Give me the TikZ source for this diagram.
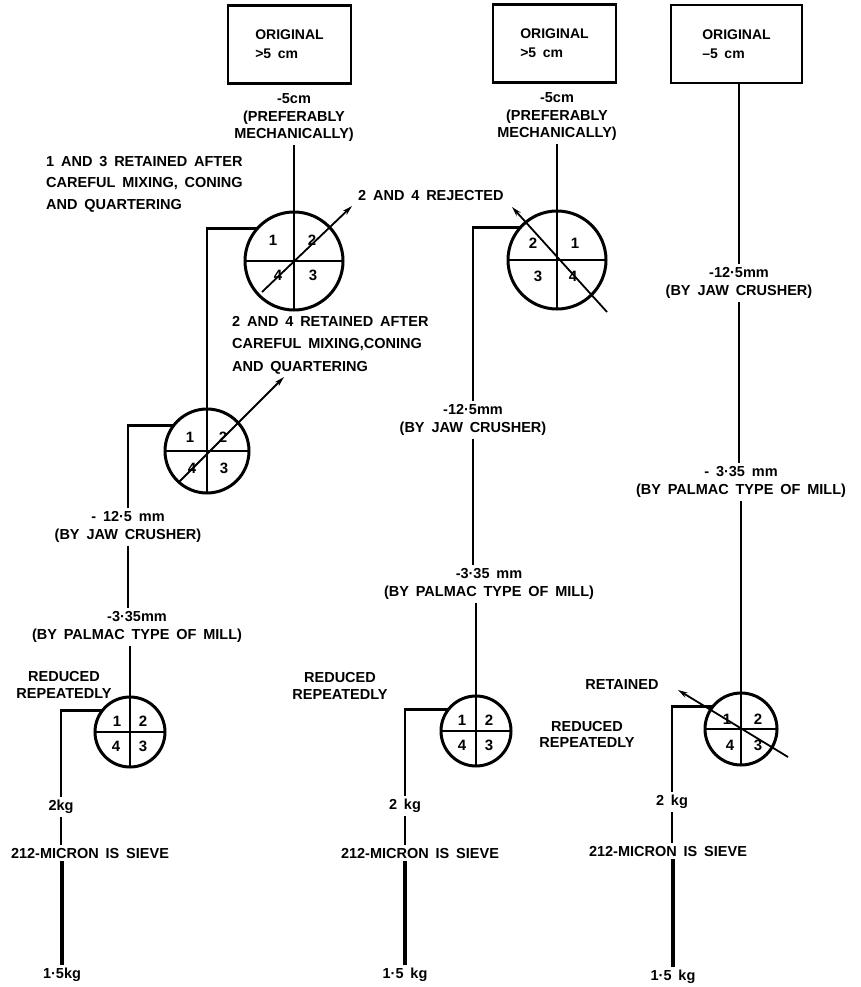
\documentclass[tikz,border=0pt]{standalone}
\usepackage{fontspec}
\setmainfont{Liberation Sans}[WordSpace=1.7]
\usetikzlibrary{arrows.meta}
\newcommand\labfont{\bfseries\fontsize{14.5}{17.5}\selectfont}
\newcommand\numfont{\bfseries\fontsize{15}{17}\selectfont}
\tikzset{
 lab/.style={font=\labfont, align=center, inner sep=3pt},
 boxnode/.style={draw, line width=2.4pt, minimum width=123pt, minimum height=78pt, align=left, font=\bfseries\fontsize{14}{19}\selectfont, inner sep=0pt},
 qc/.style={draw, circle, line width=3pt, inner sep=0pt, outer sep=0pt},
 ln/.style={line width=2.8pt},
 heavy/.style={line width=4.4pt},
 arr/.style={line width=1.8pt, -{Stealth[length=10pt,width=5.5pt]}},
 num/.style={font=\numfont, inner sep=0pt}
}
\begin{document}
\begin{tikzpicture}[x=1pt,y=-1pt]
\useasboundingbox (0,0) rectangle (860,987);
\fill[white] (0,0) rectangle (860,987);

% ---------------- Column 1 ----------------
\node[boxnode] (b1) at (289.5,44.5) {ORIGINAL\\>5 cm};
\node[lab] (m1) at (294,118) {-5cm\\(PREFERABLY\\MECHANICALLY)};
\node[lab, align=left, anchor=west, font=\bfseries\fontsize{14.5}{21.5}\selectfont] (r13) at (43,184) {1 AND 3 RETAINED AFTER\\CAREFUL MIXING, CONING\\AND QUARTERING};
\node[lab, align=left, anchor=west] (rej) at (355,196) {2 AND 4 REJECTED};
\node[qc, minimum size=98pt] (c1) at (294,261) {};
\node[lab, align=left, anchor=west, font=\bfseries\fontsize{14.5}{22.5}\selectfont] (r24) at (229,345) {2 AND 4 RETAINED AFTER\\CAREFUL MIXING,CONING\\AND QUARTERING};
\node[qc, minimum size=84pt] (c2) at (207,451) {};
\node[lab] (l13) at (128,527) {- 12·5 mm\\(BY JAW CRUSHER)};
\node[lab] (l14) at (137,627) {-3·35mm\\(BY PALMAC TYPE OF MILL)};
\node[lab] (red1) at (64,685) {REDUCED\\REPEATEDLY};
\node[qc, minimum size=70pt] (c3) at (130,732) {};
\node[lab] (kg1) at (61,807) {2kg};
\node[lab] (s1) at (90,853) {212-MICRON IS SIEVE};
\node[lab] (f1) at (62,975) {1·5kg};

% numbers
\node[num] at ([shift={(-21,-21)}]c1.center) {1};
\node[num] at ([shift={(18,-21)}]c1.center) {2};
\node[num] at ([shift={(-16,14)}]c1.center) {4};
\node[num] at ([shift={(19,14)}]c1.center) {3};
\node[num] at ([shift={(-17,-14)}]c2.center) {1};
\node[num] at ([shift={(16,-14)}]c2.center) {2};
\node[num] at ([shift={(-15,17)}]c2.center) {4};
\node[num] at ([shift={(17,17)}]c2.center) {3};
\node[num] at ([shift={(-13,-11)}]c3.center) {1};
\node[num] at ([shift={(13,-11)}]c3.center) {2};
\node[num] at ([shift={(-14,14)}]c3.center) {4};
\node[num] at ([shift={(13,14)}]c3.center) {3};

\draw[ln] (c1.north) -- (c1.south) (c1.west) -- (c1.east);
\draw[ln] (c2.north) -- (c2.south) (c2.west) -- (c2.east);
\draw[ln] (c3.north) -- (c3.south) (c3.west) -- (c3.east);

\draw[ln] (m1.south) -- (c1.north);
\draw[ln] (c1.139) -| (c2.north);
\draw[ln] (c2.142) -| (l13.north);
\draw[ln] (l13.south) -- (l13.south |- l14.north);
\draw[ln] (l14.south -| c3.north) -- (c3.north);
\draw[ln] (c3.142) -| (kg1.north);
\draw[ln] (kg1.south) -- (kg1.south |- s1.north);
\draw[heavy] (s1.south -| f1.north) -- (f1.north);

\coordinate (a1s) at ([shift={(-32,31)}]c1.center);
\coordinate (a1e) at ([shift={(58,-55)}]c1.center);
\draw[arr] (a1s) -- (a1e);
\coordinate (a2s) at ([shift={(-28,31)}]c2.center);
\coordinate (a2e) at ([shift={(77,-74)}]c2.center);
\draw[arr] (a2s) -- (a2e);

% ---------------- Column 2 ----------------
\node[boxnode] (b2) at (554.5,43.5) {ORIGINAL\\>5 cm};
\node[lab] (m2) at (557,117) {-5cm\\(PREFERABLY\\MECHANICALLY)};
\node[qc, minimum size=98pt] (c4) at (557,260) {};
\node[lab] (l23) at (473,420) {-12·5mm\\(BY JAW CRUSHER)};
\node[lab] (l24) at (489,584) {-3·35 mm\\(BY PALMAC TYPE OF MILL)};
\node[lab] (red2) at (340,686) {REDUCED\\REPEATEDLY};
\node[qc, minimum size=70pt] (c5) at (476,731) {};
\node[lab] (kg2) at (405,806) {2 kg};
\node[lab] (s2) at (420,853) {212-MICRON IS SIEVE};
\node[lab] (f2) at (405,975) {1·5 kg};

\node[num] at ([shift={(-24,-17)}]c4.center) {2};
\node[num] at ([shift={(18,-17)}]c4.center) {1};
\node[num] at ([shift={(-19,16)}]c4.center) {3};
\node[num] at ([shift={(16,16)}]c4.center) {4};
\node[num] at ([shift={(-14,-11)}]c5.center) {1};
\node[num] at ([shift={(13,-11)}]c5.center) {2};
\node[num] at ([shift={(-14,14)}]c5.center) {4};
\node[num] at ([shift={(13,14)}]c5.center) {3};

\draw[ln] (c4.north) -- (c4.south) (c4.west) -- (c4.east);
\draw[ln] (c5.north) -- (c5.south) (c5.west) -- (c5.east);

\draw[ln] (m2.south) -- (c4.north);
\draw[ln] (c4.139) -| (l23.north);
\draw[ln] (l23.south) -- (l23.south |- l24.north);
\draw[ln] (l24.south -| c5.north) -- (c5.north);
\draw[ln] (c5.142) -| (kg2.north);
\draw[ln] (kg2.south) -- (kg2.south |- s2.north);
\draw[heavy] (s2.south -| f2.north) -- (f2.north);

\coordinate (a4s) at ([shift={(50,52)}]c4.center);
\coordinate (a4e) at ([shift={(-45,-53)}]c4.center);
\draw[arr] (a4s) -- (a4e);

% ---------------- Column 3 ----------------
\node[boxnode, minimum width=131pt] (b3) at (736.5,44) {ORIGINAL\\–5 cm};
\node[lab] (l33) at (739,283) {-12·5mm\\(BY JAW CRUSHER)};
\node[lab] (l34) at (741,482) {- 3·35 mm\\(BY PALMAC TYPE OF MILL)};
\node[lab] (ret) at (622,685) {RETAINED};
\node[lab, font=\bfseries\fontsize{14.5}{16}\selectfont] (red3) at (587,734) {REDUCED\\REPEATEDLY};
\node[qc, minimum size=72pt] (c6) at (741,729) {};
\node[lab] (kg3) at (672,802) {2 kg};
\node[lab] (s3) at (668,851) {212-MICRON IS SIEVE};
\node[lab] (f3) at (673,977) {1·5 kg};

\node[num] at ([shift={(-14,-10)}]c6.center) {1};
\node[num] at ([shift={(17,-10)}]c6.center) {2};
\node[num] at ([shift={(-11,16)}]c6.center) {4};
\node[num] at ([shift={(17,16)}]c6.center) {3};

\draw[ln] (c6.north) -- (c6.south) (c6.west) -- (c6.east);

\draw[ln] (b3.south -| l33.north) -- (l33.north);
\draw[ln] (l33.south) -- (l33.south |- l34.north);
\draw[ln] (l34.south -| c6.north) -- (c6.north);
\draw[ln] (c6.142) -| (kg3.north);
\draw[ln] (kg3.south) -- (kg3.south |- s3.north);
\draw[heavy] (s3.south -| f3.north) -- (f3.north);

\coordinate (a6s) at ([shift={(47,28)}]c6.center);
\coordinate (a6e) at ([shift={(-63,-39)}]c6.center);
\draw[arr] (a6s) -- (a6e);
\end{tikzpicture}
\end{document}
